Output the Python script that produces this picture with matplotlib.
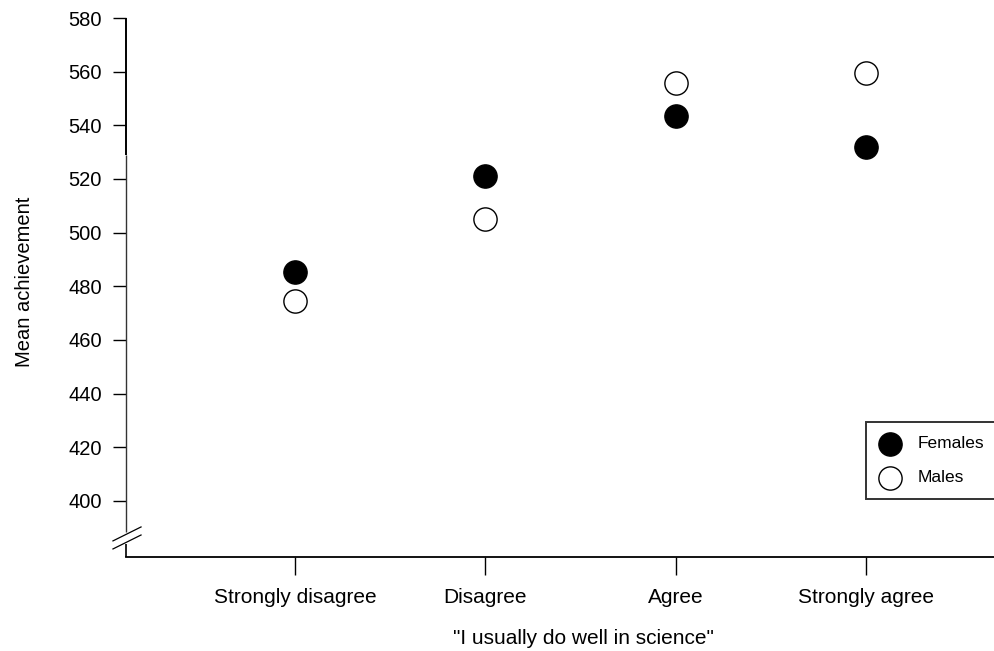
import numpy as np
import matplotlib.pyplot as plt

plt.rcParams["font.family"] = ["Liberation Sans", "DejaVu Sans"]

categories = ["Strongly disagree", "Disagree", "Agree", "Strongly agree"]
females = [485.3, 521.1, 543.5, 532.0]
males = [474.5, 505.1, 555.8, 559.6]
yticks = [400, 420, 440, 460, 480, 500, 520, 540, 560, 580]

x = np.arange(1, len(categories) + 1)

fig = plt.figure(figsize=(9.95, 6.51), dpi=100)
ax = fig.add_axes([126 / 995, 1 - 557 / 651, 1 - 126 / 995, (557 - 18) / 651])

ax.scatter(x, females, s=280, facecolor="black", edgecolor="black",
           linewidth=1.0, zorder=3, label="Females")
ax.scatter(x, males, s=280, facecolor="white", edgecolor="black",
           linewidth=1.0, zorder=3, label="Males")

ax.set_xlim(0.112, 4.678)
ax.set_ylim(379.1, 580)
ax.set_xticks(x)
ax.set_xticklabels(categories, fontsize=15)
ax.set_yticks(yticks)
ax.set_yticklabels([str(v) for v in yticks], fontsize=14.5)
ax.tick_params(axis="x", direction="out", length=13, width=1.0, pad=9)
ax.tick_params(axis="y", direction="out", length=9.4, width=1.0, pad=8)

for side in ["top", "right", "left"]:
    ax.spines[side].set_visible(False)
ax.spines["bottom"].set_linewidth(1.3)

# left axis drawn by hand so it can carry a break near the bottom
ytr = ax.get_yaxis_transform()
ax.plot([0, 0], [529, 580], color="black", lw=1.4, transform=ytr,
        clip_on=False, solid_capstyle="butt")
ax.plot([0, 0], [388.4, 529], color="#333333", lw=1.0, transform=ytr,
        clip_on=False, solid_capstyle="butt")
ax.plot([0, 0], [379.1, 384.0], color="black", lw=1.2, transform=ytr,
        clip_on=False, solid_capstyle="butt")
for y0, y1 in [(385.1, 390.3), (382.1, 387.3)]:
    ax.plot([-0.015, 0.0173], [y0, y1], color="black", lw=0.9,
            transform=ytr, clip_on=False)

fig.text(583 / 995, 1 - 638 / 651, '"I usually do well in science"',
         fontsize=15, ha="center", va="center")
fig.text(25 / 995, 1 - 282 / 651, "Mean achievement", fontsize=14.5,
         rotation=90, ha="center", va="center")

leg = ax.legend(loc="lower left", bbox_to_anchor=(866 / 995, 1 - 499 / 651, 140 / 995, 76 / 651),
                bbox_transform=fig.transFigure, mode="expand", fontsize=12.5,
                frameon=True, fancybox=False, borderpad=0.8, labelspacing=1.07,
                handletextpad=1.0, borderaxespad=0, handlelength=1.2)
leg.get_frame().set_edgecolor("black")
leg.get_frame().set_linewidth(1.4)

fig.savefig("out.png", dpi=100)
